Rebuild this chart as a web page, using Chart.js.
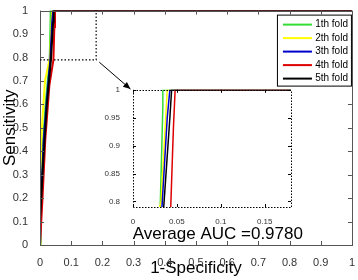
<!DOCTYPE html>
<html>
<head>
<meta charset="utf-8">
<script src="https://cdn.jsdelivr.net/npm/chart.js@4.4.0/dist/chart.umd.min.js"></script>
<style>
body { margin: 0; background: #fff; }
#wrap { position: relative; width: 358px; height: 280px; }
#main { position: absolute; left: 0; top: 0; }
#inset { position: absolute; left: 100px; top: 80px; }
</style>
</head>
<body>
<div id="wrap">
  <canvas id="main" width="358" height="280"></canvas>
  <canvas id="inset" width="200" height="145"></canvas>
</div>
<script>
// ROC points per fold (1-specificity, sensitivity)
const foldLabels = ['1th fold', '2th fold', '3th fold', '4th fold', '5th fold'];
const fpr1 = [0, 0.002, 0.008, 0.018, 0.031, 0.034, 0.034, 1];
const tpr1 = [0, 0.15, 0.4, 0.6, 0.79, 0.97, 1, 1];
const fpr2 = [0, 0.001, 0.006, 0.016, 0.032, 0.039, 1];
const tpr2 = [0, 0.3, 0.5, 0.7, 0.8, 1, 1];
const fpr3 = [0, 0.004, 0.012, 0.022, 0.033, 0.039, 0.042, 1];
const tpr3 = [0, 0.2, 0.45, 0.62, 0.79, 0.95, 1, 1];
const fpr4 = [0, 0.008, 0.017, 0.03, 0.043, 0.046, 0.048, 1];
const tpr4 = [0, 0.2, 0.45, 0.68, 0.79, 0.93, 1, 1];
const fpr5 = [0, 0, 0.01, 0.022, 0.035, 0.042, 0.044, 1];
const tpr5 = [0, 0.1, 0.35, 0.6, 0.79, 0.95, 1, 1];
const fprs = [fpr1, fpr2, fpr3, fpr4, fpr5];
const tprs = [tpr1, tpr2, tpr3, tpr4, tpr5];

const mainTicks = [0, 0.1, 0.2, 0.3, 0.4, 0.5, 0.6, 0.7, 0.8, 0.9, 1];
const insetXTicks = [0, 0.05, 0.1, 0.15];
const insetYTicks = [0.8, 0.85, 0.9, 0.95, 1];
const zoomX = [0, 0.18];
const zoomY = [0.79, 1];
const aucText = 'Average AUC =0.9780';

const colors = ['#33dd33', '#ffff00', '#0000cc', '#dd0000', '#000000'];
const FONT = '"Liberation Sans", Arial, sans-serif';

// later folds on top, like matlab's plot order
function makeSets(width) {
  return fprs.map((f, i) => ({
    label: foldLabels[i],
    data: f.map((x, j) => ({ x: x, y: tprs[i][j] })),
    borderColor: colors[i],
    borderWidth: width,
    showLine: true,
    pointRadius: 0,
    tension: 0,
    order: fprs.length - i
  }));
}

function fixTicks(list) {
  return s => { s.ticks = list.map(v => ({ value: v })); };
}

// inward ticks on all four sides + box
function boxPlugin(len, dotted, boxColor) {
  return {
    id: 'box',
    beforeDraw(chart) {
      const a = chart.chartArea, ctx = chart.ctx;
      ctx.save();
      ctx.fillStyle = '#fff';
      ctx.fillRect(a.left, a.top, a.right - a.left, a.bottom - a.top);
      ctx.restore();
    },
    afterDatasetsDraw(chart) {
      const { ctx, chartArea: a, scales: { x, y } } = chart;
      ctx.save();
      ctx.strokeStyle = boxColor;
      ctx.lineWidth = 1;
      ctx.beginPath();
      x.ticks.forEach(t => {
        const px = Math.round(x.getPixelForValue(t.value)) + 0.5;
        ctx.moveTo(px, a.bottom); ctx.lineTo(px, a.bottom - len);
        ctx.moveTo(px, a.top); ctx.lineTo(px, a.top + len);
      });
      y.ticks.forEach(t => {
        const py = Math.round(y.getPixelForValue(t.value)) + 0.5;
        ctx.moveTo(a.left, py); ctx.lineTo(a.left + len, py);
        ctx.moveTo(a.right, py); ctx.lineTo(a.right - len, py);
      });
      ctx.stroke();
      if (dotted) ctx.setLineDash([1.5, 1.5]);
      ctx.strokeRect(Math.round(a.left) + 0.5, Math.round(a.top) + 0.5,
        Math.round(a.right - a.left), Math.round(a.bottom - a.top));
      ctx.restore();
    }
  };
}

const extras = {
  id: 'extras',
  afterDraw(chart) {
    const { ctx, chartArea: a, scales: { x, y } } = chart;
    ctx.save();
    // zoom rectangle
    ctx.strokeStyle = '#000';
    ctx.lineWidth = 1.2;
    ctx.setLineDash([1.5, 2]);
    const x1 = x.getPixelForValue(zoomX[1]), y0 = y.getPixelForValue(zoomY[0]);
    ctx.beginPath();
    ctx.moveTo(x.getPixelForValue(zoomX[0]), y0);
    ctx.lineTo(x1, y0);
    ctx.lineTo(x1, y.getPixelForValue(zoomY[1]));
    ctx.stroke();
    ctx.setLineDash([]);
    // arrow
    const ax0 = x.getPixelForValue(0.19), ay0 = y.getPixelForValue(0.78);
    const ax1 = x.getPixelForValue(0.29), ay1 = y.getPixelForValue(0.665);
    ctx.lineWidth = 1;
    ctx.beginPath(); ctx.moveTo(ax0, ay0); ctx.lineTo(ax1, ay1); ctx.stroke();
    const ang = Math.atan2(ay1 - ay0, ax1 - ax0);
    ctx.fillStyle = '#000';
    ctx.beginPath();
    ctx.moveTo(ax1, ay1);
    ctx.lineTo(ax1 - 8 * Math.cos(ang - 0.4), ay1 - 8 * Math.sin(ang - 0.4));
    ctx.lineTo(ax1 - 8 * Math.cos(ang + 0.4), ay1 - 8 * Math.sin(ang + 0.4));
    ctx.closePath(); ctx.fill();
    // AUC text
    ctx.font = '17px ' + FONT;
    ctx.textAlign = 'left';
    ctx.textBaseline = 'middle';
    ctx.fillText(aucText, x.getPixelForValue(0.297), y.getPixelForValue(0.045));
    // legend
    const bw = 74, bh = 71, bx = a.right - bw - 1, by = a.top + 4;
    ctx.fillStyle = '#fff';
    ctx.fillRect(bx, by, bw, bh);
    ctx.strokeStyle = '#000';
    ctx.strokeRect(bx + 0.5, by + 0.5, bw, bh);
    ctx.font = '10px ' + FONT;
    ctx.textAlign = 'right';
    chart.data.datasets.forEach((d, i) => {
      const ry = by + 10 + i * 13.5;
      ctx.strokeStyle = d.borderColor;
      ctx.lineWidth = 2;
      ctx.beginPath(); ctx.moveTo(bx + 6, ry); ctx.lineTo(bx + 35, ry); ctx.stroke();
      ctx.fillStyle = '#000';
      ctx.fillText(d.label, bx + bw - 3, ry);
    });
    ctx.restore();
  }
};

new Chart(document.getElementById('main'), {
  type: 'scatter',
  data: { datasets: makeSets(2) },
  options: {
    responsive: false,
    animation: false,
    layout: { padding: { left: 0, right: 4, top: 5, bottom: 0 } },
    plugins: { legend: { display: false }, tooltip: { enabled: false } },
    scales: {
      x: {
        type: 'linear', min: 0, max: 1,
        afterBuildTicks: fixTicks(mainTicks),
        afterFit: s => { s.height = 35; },
        grid: { display: false },
        border: { display: false },
        ticks: { padding: 3, color: '#333', font: { family: FONT, size: 11 }, maxRotation: 0, callback: v => String(v) },
        title: { display: true, text: '1-Specificity', color: '#000', padding: { top: 0, bottom: 1 }, font: { family: FONT, size: 17 } }
      },
      y: {
        type: 'linear', min: 0, max: 1,
        afterBuildTicks: fixTicks(mainTicks),
        afterFit: s => { s.width = 40; },
        grid: { display: false },
        border: { display: false },
        ticks: { padding: 4, color: '#333', font: { family: FONT, size: 11 }, callback: v => String(v) },
        title: { display: true, text: 'Sensitivity', color: '#000', padding: { top: 0, bottom: 0 }, font: { family: FONT, size: 17 } }
      }
    }
  },
  plugins: [boxPlugin(4, false, '#555'), extras]
});

new Chart(document.getElementById('inset'), {
  type: 'scatter',
  data: { datasets: makeSets(1.5) },
  options: {
    responsive: false,
    animation: false,
    layout: { padding: { left: 0, right: 9, top: 5, bottom: 0 } },
    plugins: { legend: { display: false }, tooltip: { enabled: false } },
    scales: {
      x: {
        type: 'linear', min: zoomX[0], max: zoomX[1],
        afterBuildTicks: fixTicks(insetXTicks),
        afterFit: s => { s.height = 18; },
        grid: { display: false },
        border: { display: false },
        ticks: { padding: 2, autoSkip: false, color: '#333', font: { family: FONT, size: 8 }, maxRotation: 0, callback: v => String(v) }
      },
      y: {
        type: 'linear', min: zoomY[0], max: zoomY[1],
        afterBuildTicks: fixTicks(insetYTicks),
        afterFit: s => { s.width = 33; },
        grid: { display: false },
        border: { display: false },
        ticks: { padding: 5, color: '#333', font: { family: FONT, size: 8 }, callback: v => String(v) }
      }
    }
  },
  plugins: [boxPlugin(3, true, '#000')]
});
</script>
</body>
</html>
